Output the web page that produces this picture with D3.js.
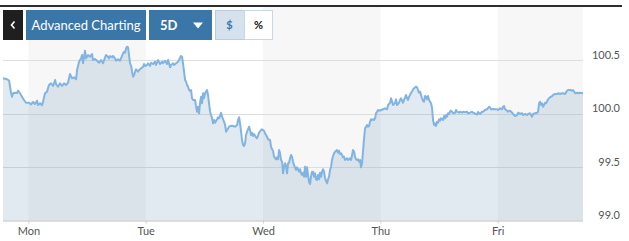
<!DOCTYPE html>
<html>
<head>
<meta charset="utf-8">
<script src="https://cdn.jsdelivr.net/npm/d3@7"></script>
<style>
  body { margin: 0; background: #fff; }
  svg { display: block; }
</style>
</head>
<body>
<svg id="chart"></svg>
<script>
// weekday ticks (day offsets from Monday) and value ticks
const days = ["Mon", "Tue", "Wed", "Thu", "Fri"];
const dayOffsets = [0, 1, 2, 3, 4];
const yTicks = [99.0, 99.5, 100.0, 100.5];
const yDomain = [99.0, 101.0];

// [day offset from Monday 00:00, index value]
const quotes = [
  [-0.216,100.332],[-0.182,100.323],[-0.164,100.310],[-0.156,100.253],[-0.147,100.192],[-0.139,100.160],[-0.130,100.192],[-0.113,100.197],[-0.096,100.194],[-0.088,100.216],
  [-0.071,100.192],[-0.054,100.160],[-0.037,100.129],[-0.020,100.103],[0.006,100.103],[0.023,100.088],[0.040,100.110],[0.057,100.091],[0.074,100.122],[0.083,100.082],
  [0.100,100.098],[0.117,100.079],[0.125,100.113],[0.142,100.192],[0.159,100.207],[0.176,100.269],[0.193,100.285],[0.211,100.260],[0.228,100.316],[0.236,100.279],
  [0.253,100.253],[0.270,100.285],[0.287,100.260],[0.304,100.285],[0.321,100.269],[0.338,100.291],[0.355,100.372],[0.372,100.332],[0.389,100.341],[0.407,100.323],
  [0.415,100.410],[0.432,100.488],[0.449,100.519],[0.458,100.550],[0.466,100.473],[0.483,100.591],[0.492,100.519],[0.509,100.550],[0.526,100.534],[0.543,100.560],
  [0.551,100.503],[0.568,100.513],[0.586,100.497],[0.603,100.478],[0.620,100.503],[0.637,100.473],[0.654,100.529],[0.662,100.550],[0.679,100.534],[0.688,100.519],
  [0.696,100.541],[0.713,100.529],[0.722,100.541],[0.739,100.519],[0.747,100.497],[0.765,100.510],[0.782,100.497],[0.790,100.519],[0.807,100.566],[0.816,100.581],
  [0.824,100.572],[0.833,100.613],[0.841,100.628],[0.850,100.622],[0.858,100.550],[0.867,100.473],[0.876,100.447],[0.884,100.394],[0.893,100.347],[0.901,100.363],
  [0.910,100.394],[0.918,100.416],[0.935,100.394],[0.944,100.410],[0.961,100.426],[0.978,100.441],[0.986,100.466],[0.995,100.447],[1.012,100.457],[1.020,100.473],
  [1.037,100.447],[1.046,100.478],[1.063,100.466],[1.080,100.488],[1.088,100.457],[1.105,100.503],[1.122,100.466],[1.140,100.488],[1.148,100.473],[1.165,100.497],
  [1.182,100.466],[1.191,100.503],[1.208,100.435],[1.216,100.457],[1.233,100.473],[1.242,100.457],[1.259,100.473],[1.276,100.488],[1.284,100.503],[1.301,100.541],
  [1.310,100.534],[1.318,100.473],[1.327,100.394],[1.336,100.316],[1.344,100.300],[1.353,100.269],[1.361,100.253],[1.370,100.222],[1.378,100.213],[1.387,100.222],
  [1.395,100.145],[1.404,100.129],[1.421,100.129],[1.429,100.073],[1.438,100.019],[1.446,100.066],[1.455,100.004],[1.463,100.098],[1.472,100.160],[1.480,100.098],
  [1.489,100.192],[1.497,100.145],[1.506,100.192],[1.514,100.207],[1.523,100.222],[1.531,100.176],[1.540,100.098],[1.549,100.019],[1.557,99.988],[1.566,99.957],
  [1.574,99.910],[1.583,99.941],[1.591,99.916],[1.608,99.948],[1.617,99.967],[1.625,99.957],[1.634,99.979],[1.642,100.010],[1.651,99.972],[1.668,99.925],
  [1.677,99.895],[1.685,99.832],[1.694,99.848],[1.711,99.879],[1.728,99.888],[1.745,99.885],[1.762,99.879],[1.779,99.895],[1.787,99.941],[1.796,99.967],
  [1.804,99.910],[1.813,99.832],[1.821,99.754],[1.830,99.707],[1.838,99.698],[1.847,99.723],[1.855,99.801],[1.864,99.832],[1.872,99.854],[1.881,99.879],
  [1.889,99.848],[1.898,99.801],[1.906,99.822],[1.915,99.792],[1.923,99.810],[1.940,99.779],[1.949,99.770],[1.957,99.792],[1.966,99.822],[1.983,99.848],
  [1.991,99.854],[2.009,99.841],[2.017,99.817],[2.034,99.785],[2.043,99.761],[2.060,99.754],[2.068,99.691],[2.077,99.667],[2.085,99.654],[2.094,99.598],
  [2.111,99.573],[2.120,99.592],[2.128,99.573],[2.137,99.660],[2.145,99.629],[2.154,99.567],[2.162,99.551],[2.171,99.442],[2.179,99.504],[2.188,99.536],
  [2.196,99.504],[2.205,99.442],[2.213,99.536],[2.222,99.541],[2.230,99.583],[2.239,99.614],[2.247,99.598],[2.256,99.551],[2.264,99.520],[2.273,99.498],
  [2.281,99.473],[2.290,99.498],[2.298,99.480],[2.307,99.457],[2.316,99.480],[2.324,99.442],[2.333,99.426],[2.341,99.448],[2.350,99.410],[2.358,99.504],
  [2.367,99.410],[2.375,99.498],[2.384,99.426],[2.392,99.363],[2.401,99.342],[2.409,99.410],[2.418,99.457],[2.426,99.457],[2.435,99.410],[2.443,99.442],
  [2.452,99.386],[2.460,99.379],[2.469,99.426],[2.478,99.386],[2.486,99.448],[2.495,99.410],[2.503,99.457],[2.512,99.480],[2.520,99.457],[2.529,99.395],
  [2.546,99.348],[2.554,99.386],[2.563,99.410],[2.571,99.473],[2.580,99.504],[2.588,99.567],[2.597,99.604],[2.605,99.629],[2.614,99.644],[2.631,99.660],
  [2.639,99.635],[2.648,99.654],[2.656,99.623],[2.665,99.629],[2.673,99.614],[2.682,99.592],[2.690,99.598],[2.699,99.567],[2.716,99.583],[2.725,99.567],
  [2.733,99.573],[2.742,99.583],[2.750,99.567],[2.759,99.614],[2.767,99.660],[2.776,99.644],[2.784,99.598],[2.793,99.573],[2.801,99.567],[2.810,99.573],
  [2.818,99.551],[2.827,99.567],[2.835,99.498],[2.844,99.536],[2.852,99.644],[2.861,99.770],[2.870,99.864],[2.878,99.879],[2.887,99.895],[2.895,99.879],
  [2.904,99.885],[2.912,99.925],[2.921,99.948],[2.929,99.941],[2.938,99.948],[2.946,99.941],[2.955,99.957],[2.963,100.004],[2.972,100.019],[2.980,100.035],
  [2.989,100.029],[2.997,100.030],[3.006,100.035],[3.023,100.042],[3.040,100.051],[3.057,100.042],[3.066,100.082],[3.083,100.103],[3.091,100.145],[3.100,100.113],
  [3.108,100.082],[3.125,100.103],[3.134,100.135],[3.142,100.082],[3.159,100.103],[3.168,100.129],[3.176,100.145],[3.193,100.103],[3.202,100.129],[3.211,100.154],
  [3.219,100.176],[3.228,100.145],[3.236,100.129],[3.245,100.160],[3.253,100.176],[3.262,100.197],[3.270,100.207],[3.279,100.229],[3.287,100.238],[3.296,100.248],
  [3.304,100.253],[3.313,100.248],[3.321,100.222],[3.330,100.197],[3.338,100.207],[3.347,100.176],[3.355,100.145],[3.364,100.122],[3.372,100.113],[3.381,100.166],
  [3.389,100.160],[3.398,100.135],[3.406,100.166],[3.415,100.129],[3.424,100.113],[3.432,100.098],[3.441,100.051],[3.449,99.941],[3.458,99.895],[3.466,99.910],
  [3.475,99.885],[3.483,99.925],[3.492,99.916],[3.500,99.948],[3.509,99.935],[3.517,99.957],[3.534,99.941],[3.543,99.979],[3.551,99.957],[3.560,99.988],
  [3.568,99.972],[3.577,100.004],[3.585,99.998],[3.594,100.019],[3.602,100.029],[3.611,100.019],[3.620,100.004],[3.637,100.010],[3.645,100.035],[3.654,100.019],
  [3.671,100.010],[3.679,100.019],[3.696,100.010],[3.705,100.019],[3.722,100.014],[3.739,100.019],[3.747,100.004],[3.764,100.010],[3.781,100.019],[3.790,100.010],
  [3.807,100.002],[3.824,99.993],[3.832,100.016],[3.849,99.998],[3.866,100.019],[3.875,100.019],[3.892,100.035],[3.909,100.042],[3.917,100.051],[3.926,100.066],
  [3.934,100.060],[3.943,100.042],[3.960,100.044],[3.977,100.042],[3.994,100.042],[4.003,100.035],[4.020,100.051],[4.037,100.042],[4.046,100.066],[4.054,100.073],
  [4.063,100.042],[4.080,100.029],[4.088,100.019],[4.105,100.029],[4.123,100.010],[4.131,99.998],[4.148,99.979],[4.165,99.988],[4.174,100.010],[4.191,99.998],
  [4.208,100.004],[4.216,99.988],[4.233,99.998],[4.250,99.988],[4.259,99.998],[4.276,100.004],[4.293,99.972],[4.301,99.998],[4.318,100.004],[4.336,100.010],
  [4.344,100.019],[4.353,100.098],[4.361,100.113],[4.370,100.082],[4.378,100.098],[4.387,100.066],[4.404,100.103],[4.412,100.098],[4.429,100.135],[4.446,100.154],
  [4.464,100.166],[4.472,100.176],[4.489,100.185],[4.506,100.185],[4.515,100.192],[4.532,100.185],[4.549,100.192],[4.557,100.192],[4.574,100.185],[4.591,100.216],
  [4.600,100.222],[4.617,100.222],[4.634,100.216],[4.642,100.222],[4.660,100.192],[4.677,100.197],[4.685,100.192],[4.702,100.197],[4.727,100.192]
];

const width = 629, height = 241;
const plotLeft = 3, plotRight = 583, plotTop = 7, plotBottom = 220.5;

const svg = d3.select("#chart")
    .attr("width", width)
    .attr("height", height)
    .attr("viewBox", [0, 0, width, height]);

const x = d3.scaleLinear()
    .domain(d3.extent(quotes, d => d[0]))
    .range([plotLeft, plotRight]);
const y = d3.scaleLinear()
    .domain(yDomain)
    .range([plotBottom, plotTop]);

// alternating day bands (Mon, Wed, Fri shaded)
svg.append("g")
  .selectAll("rect")
  .data(dayOffsets.filter(d => d % 2 == 0))
  .join("rect")
    .attr("x", d => x(d))
    .attr("y", plotTop)
    .attr("width", d => Math.min(x(d + 1), plotRight) - x(d))
    .attr("height", plotBottom - plotTop)
    .attr("fill", "#f7f7f7");

// horizontal grid
svg.append("g")
  .selectAll("line")
  .data(yTicks)
  .join("line")
    .attr("x1", plotLeft)
    .attr("x2", plotRight)
    .attr("y1", d => Math.round(y(d)) + 0.5)
    .attr("y2", d => Math.round(y(d)) + 0.5)
    .attr("stroke", "#dedede");

// area + line
const area = d3.area()
    .x(d => x(d[0]))
    .y0(y(yDomain[0]))
    .y1(d => y(d[1]));
const line = d3.line()
    .x(d => x(d[0]))
    .y(d => y(d[1]));

svg.append("path")
    .datum(quotes)
    .attr("d", area)
    .attr("fill", "rgb(105,150,185)")
    .attr("fill-opacity", 0.2);

svg.append("path")
    .datum(quotes)
    .attr("d", line)
    .attr("fill", "none")
    .attr("stroke", "#82b4e2")
    .attr("stroke-width", 2)
    .attr("stroke-linejoin", "round");

// bottom axis
const xAxis = d3.axisBottom(x)
    .tickValues(dayOffsets)
    .tickFormat((d, i) => days[i])
    .tickSize(3)
    .tickPadding(4);

svg.append("g")
    .attr("transform", `translate(0,${plotBottom})`)
    .call(xAxis)
    .call(g => g.select(".domain").attr("stroke", "#d8d8d8").attr("d", `M${plotLeft},0H${plotRight}`))
    .call(g => g.selectAll(".tick line").attr("stroke", "#cfcfcf"))
    .call(g => g.selectAll(".tick text")
        .attr("fill", "#555")
        .attr("font-family", "Lato, 'Open Sans', sans-serif")
        .attr("font-size", 11));

// right value labels, sitting just above their grid line
const yAxis = d3.axisRight(y)
    .tickValues(yTicks)
    .tickFormat(d3.format(".1f"))
    .tickSize(0);

svg.append("g")
    .attr("transform", `translate(620,0)`)
    .call(yAxis)
    .call(g => g.select(".domain").remove())
    .call(g => g.selectAll(".tick text")
        .attr("x", 0)
        .attr("dy", -2)
        .attr("text-anchor", "end")
        .attr("fill", "#555")
        .attr("font-family", "Lato, 'Open Sans', sans-serif")
        .attr("font-size", 11));

// dark top rule
svg.append("rect")
    .attr("x", 0).attr("y", 5)
    .attr("width", 622).attr("height", 2)
    .attr("fill", "#2b2d30");

// toolbar buttons
const bar = svg.append("g").attr("font-family", "Lato, 'Open Sans', sans-serif");

bar.append("rect").attr("x", 3).attr("y", 10).attr("width", 20).attr("height", 30).attr("fill", "#1f1f1f");
bar.append("path").attr("d", "M14.5,21.5l-3,3.5l3,3.5")
    .attr("fill", "none").attr("stroke", "#fff").attr("stroke-width", 1.6);

bar.append("rect").attr("x", 26).attr("y", 10).attr("width", 120).attr("height", 30).attr("fill", "#3a77a8");
bar.append("text").attr("x", 86).attr("y", 29.5).attr("text-anchor", "middle")
    .attr("fill", "#fff").attr("font-size", 13).text("Advanced Charting");

bar.append("rect").attr("x", 149).attr("y", 10).attr("width", 63).attr("height", 30).attr("fill", "#3a77a8");
bar.append("text").attr("x", 160).attr("y", 29.5)
    .attr("fill", "#fff").attr("font-size", 13).attr("font-weight", "bold").text("5D");
bar.append("path").attr("d", "M193,22.5h10l-5,6z").attr("fill", "#fff");

bar.append("rect").attr("x", 215.5).attr("y", 10.5).attr("width", 29).attr("height", 29)
    .attr("fill", "#d5e1ed").attr("stroke", "#b9cde0");
bar.append("text").attr("x", 229.5).attr("y", 29).attr("text-anchor", "middle")
    .attr("fill", "#3a77a8").attr("font-size", 11).attr("font-weight", "bold").text("$");

bar.append("rect").attr("x", 244.5).attr("y", 10.5).attr("width", 28).attr("height", 29)
    .attr("fill", "#fff").attr("stroke", "#c9d6e3");
bar.append("text").attr("x", 258.5).attr("y", 29).attr("text-anchor", "middle")
    .attr("fill", "#111").attr("font-size", 11).attr("font-weight", "bold").text("%");
</script>
</body>
</html>
